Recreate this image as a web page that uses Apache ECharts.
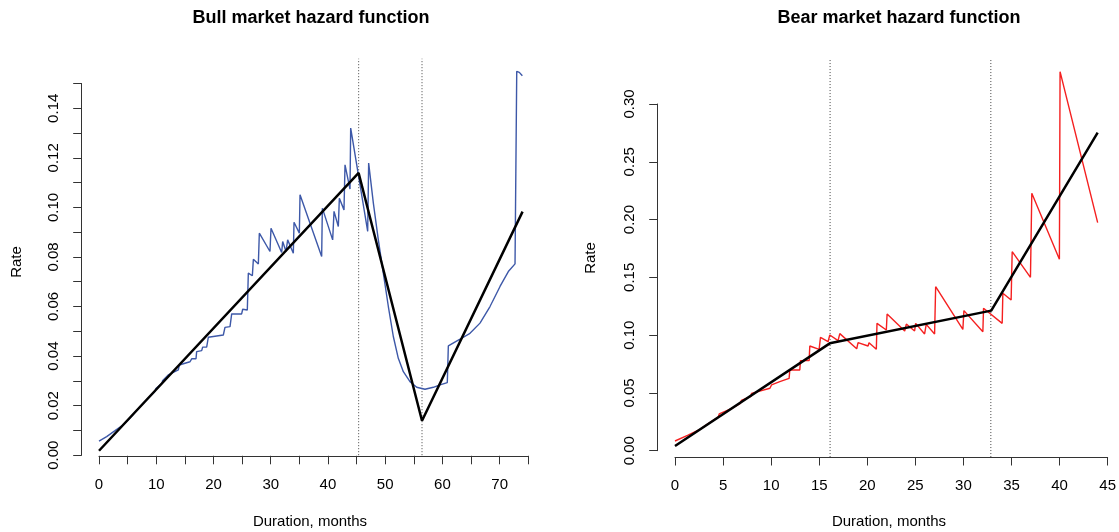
<!DOCTYPE html>
<html><head><meta charset="utf-8">
<script src="https://cdn.jsdelivr.net/npm/echarts@6/dist/echarts.min.js"></script>
<style>html,body{margin:0;padding:0;background:#fff}#c{width:1119px;height:532px}</style>
</head><body><div id="c"></div>
<script>
// ---- data ----
const bullEmpirical = [
 [0,0.0057],[1.34,0.0075],[2.8,0.0099],[4.25,0.0123],[5.5,0.0152],[7.16,0.0196],[8.5,0.0228],
 [9.8,0.0258],[9.9,0.0268],[11.0,0.0290],[11.1,0.0300],[12.1,0.0324],[13.86,0.0344],[14.03,0.0364],
 [15.02,0.0371],[15.9,0.0377],[16.19,0.0389],[16.95,0.0389],[17.06,0.0418],[17.94,0.0422],[18.11,0.0436],
 [18.81,0.0436],[19.1,0.0476],[21.72,0.0485],[22.01,0.0516],[22.89,0.0519],[23.18,0.0570],[24.92,0.0570],
 [25.1,0.0589],[25.91,0.0586],[26.09,0.0735],[26.79,0.0724],[26.97,0.0791],[27.84,0.0772],[28.01,0.0896],
 [29.87,0.0822],[30.05,0.0916],[31.91,0.0818],[32.09,0.0862],[32.67,0.0822],[32.96,0.0869],[33.95,0.0815],
 [34.07,0.0940],[35.0,0.0896],[35.12,0.1051],[38.9,0.0802],[39.02,0.0997],[40.82,0.0869],[41.06,0.0984],
 [41.81,0.0923],[41.99,0.1037],[42.8,0.0990],[42.98,0.1172],[43.85,0.1074],[43.97,0.1320],[46.94,0.0903],
 [47.11,0.1179],[47.93,0.1017],[48.8,0.0869],[49.67,0.0735],[50.55,0.0600],[51.42,0.0479],[52.29,0.0391],
 [53.17,0.0337],[54.33,0.0297],[55.5,0.0274],[56.95,0.0266],[58.41,0.0274],[59.57,0.0284],[60.85,0.0293],
 [61.03,0.0441],[63.07,0.0468],[64.81,0.0492],[66.56,0.0533],[68.31,0.0600],[70.06,0.0681],[71.51,0.0741],
 [72.68,0.0772],[72.97,0.0778],[72.98,0.1549],[73.43,0.1545],[73.96,0.1531]
];
const bullFit = [[0,0.0018],[45.36,0.1139],[56.43,0.0139],[74,0.0983]];
const bullBreaks = [45.36, 56.43];

const bearEmpirical = [
 [0,0.0084],[1.3,0.0132],[2.6,0.0185],[3.5,0.0237],[4.5,0.0290],[4.6,0.0318],[5.8,0.0362],[6.8,0.0410],
 [6.9,0.0435],[7.9,0.0470],[7.96,0.0496],[9.87,0.0540],[10.04,0.0569],[10.9,0.0597],[11.87,0.0626],
 [11.94,0.0698],[12.98,0.0698],[13.05,0.0779],[13.95,0.0779],[14.02,0.0906],[14.99,0.0877],[15.13,0.0981],
 [15.92,0.0943],[16.1,0.1001],[16.96,0.0952],[17.14,0.1013],[18.9,0.0882],[19.04,0.0935],[20.08,0.0906],
 [20.18,0.0934],[20.94,0.0877],[21.01,0.1102],[21.98,0.1044],[22.06,0.1183],[23.89,0.1036],[24.06,0.1096],
 [24.92,0.1036],[25.03,0.1102],[25.96,0.1010],[26.13,0.1093],[27.0,0.1010],[27.11,0.1419],[29.94,0.1050],
 [30.05,0.1212],[32.02,0.1030],[32.09,0.1232],[34.03,0.1102],[34.1,0.1362],[34.96,0.1304],[35.07,0.1722],
 [36.97,0.1500],[37.11,0.2227],[39.98,0.1656],[40.05,0.3280],[43.96,0.1973]
];
const bearFit = [[0,0.0041],[16.1,0.0929],[32.89,0.1212],[43.96,0.2752]];
const bearBreaks = [16.13, 32.85];

const bullXLabels = [0,10,20,30,40,50,60,70];
const bullYLabels = ['0.00','0.02','0.04','0.06','0.08','0.10','0.12','0.14'];
const bearXLabels = [0,5,10,15,20,25,30,35,40,45];
const bearYLabels = ['0.00','0.05','0.10','0.15','0.20','0.25','0.30'];
const titles = ['Bull market hazard function','Bear market hazard function'];
const xTitle = 'Duration, months';
const yTitle = 'Rate';

// ---- chart ----
const FONT = '"Liberation Sans", Arial, Helvetica, sans-serif';
const bullRegionY = [0, 0.16];
const bearRegionY = [-0.0055, 0.339];

function axisCommon(extra) {
  return Object.assign({
    type: 'value',
    splitLine: { show: false },
    axisLine: { show: true, onZero: false, lineStyle: { color: '#333', width: 1 } },
    axisTick: { show: true, length: 8.5, lineStyle: { color: '#333', width: 1 } }
  }, extra);
}

function breakSeries(b, xi, range) {
  return {
    type: 'line', xAxisIndex: xi, yAxisIndex: xi, data: [[b, range[0]], [b, range[1]]],
    symbol: 'none', clip: false, silent: true, animation: false,
    lineStyle: { color: '#444', width: 1, type: [1, 2] }
  };
}

const chart = echarts.init(document.getElementById('c'), null, { renderer: 'canvas' });
chart.setOption({
  animation: false,
  backgroundColor: '#fff',
  grid: [
    { left: 99, top: 83.5, width: 429.3, height: 371.7 },
    { left: 675, top: 104, width: 433.3, height: 346.7 }
  ],
  xAxis: [
    axisCommon({ gridIndex: 0, min: 0, max: 75, interval: 5, offset: 0.6,
      axisLabel: { color: '#000', fontSize: 15, fontFamily: FONT, margin: 22,
        formatter: v => bullXLabels.indexOf(v) >= 0 ? String(v) : '' } }),
    axisCommon({ gridIndex: 1, min: 0, max: 45, interval: 5, offset: 6.3,
      axisLabel: { color: '#000', fontSize: 15, fontFamily: FONT, margin: 21,
        formatter: v => bearXLabels.indexOf(v) >= 0 ? String(v) : '' } })
  ],
  yAxis: [
    axisCommon({ gridIndex: 0, min: 0, max: 0.15, interval: 0.01, offset: 17.3,
      axisLabel: { color: '#000', fontSize: 15, fontFamily: FONT, margin: 20, rotate: 90,
        formatter: v => { const s = v.toFixed(2); return bullYLabels.indexOf(s) >= 0 ? s : ''; } } }),
    axisCommon({ gridIndex: 1, min: 0, max: 0.3, interval: 0.05, offset: 17.3,
      axisLabel: { color: '#000', fontSize: 15, fontFamily: FONT, margin: 20, rotate: 90,
        formatter: v => { const s = v.toFixed(2); return bearYLabels.indexOf(s) >= 0 ? s : ''; } } })
  ],
  series: [
    ...bullBreaks.map(b => breakSeries(b, 0, bullRegionY)),
    ...bearBreaks.map(b => breakSeries(b, 1, bearRegionY)),
    { type: 'line', xAxisIndex: 0, yAxisIndex: 0, data: bullEmpirical, symbol: 'none', clip: false,
      lineStyle: { color: '#3d58a8', width: 1.4 } },
    { type: 'line', xAxisIndex: 0, yAxisIndex: 0, data: bullFit, symbol: 'none', clip: false,
      lineStyle: { color: '#000', width: 2.5 } },
    { type: 'line', xAxisIndex: 1, yAxisIndex: 1, data: bearEmpirical, symbol: 'none', clip: false,
      lineStyle: { color: '#f52020', width: 1.4 } },
    { type: 'line', xAxisIndex: 1, yAxisIndex: 1, data: bearFit, symbol: 'none', clip: false,
      lineStyle: { color: '#000', width: 2.5 } }
  ],
  graphic: [
    { type: 'text', x: 311, y: 18, style: { text: titles[0], align: 'center', verticalAlign: 'middle', font: 'bold 18px ' + FONT, fill: '#000' } },
    { type: 'text', x: 899, y: 18, style: { text: titles[1], align: 'center', verticalAlign: 'middle', font: 'bold 18px ' + FONT, fill: '#000' } },
    { type: 'text', x: 310, y: 522, style: { text: xTitle, align: 'center', verticalAlign: 'middle', font: '15px ' + FONT, fill: '#000' } },
    { type: 'text', x: 889, y: 522, style: { text: xTitle, align: 'center', verticalAlign: 'middle', font: '15px ' + FONT, fill: '#000' } },
    { type: 'text', x: 17, y: 262, rotation: Math.PI / 2, style: { text: yTitle, align: 'center', verticalAlign: 'middle', font: '15px ' + FONT, fill: '#000' } },
    { type: 'text', x: 591, y: 258, rotation: Math.PI / 2, style: { text: yTitle, align: 'center', verticalAlign: 'middle', font: '15px ' + FONT, fill: '#000' } }
  ]
});
</script></body></html>
